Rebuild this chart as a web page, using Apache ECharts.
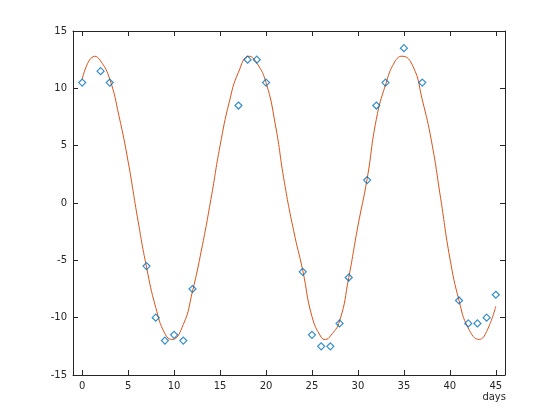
<!DOCTYPE html>
<html>
<head>
<meta charset="utf-8">
<script src="https://cdn.jsdelivr.net/npm/echarts@6/dist/echarts.min.js"></script>
<style>html,body{margin:0;padding:0;background:#fff}#c{width:560px;height:420px}</style>
</head>
<body>
<div id="c"></div>
<script>
// observed data points
var obsDays = [0,2,3,7,8,9,10,11,12,17,18,19,20,24,25,26,27,28,29,31,32,33,35,37,41,42,43,44,45];
var obsValues = [10.5,11.5,10.5,-5.5,-10,-12,-11.5,-12,-7.5,8.5,12.5,12.5,10.5,-6,-11.5,-12.5,-12.5,-10.5,-6.5,2,8.5,10.5,13.5,10.5,-8.5,-10.5,-10.5,-10,-8];
// fitted curve, values
var fitDays = [0,1.35,2,3,4,5,6,7,8,9,9.75,11,12,13,14,15,16,17,18.15,19,20,21,22,23,24,25,26,26.45,27,28,29,30,31,32,33,34,34.8,36,37,38,39,40,41,42,43.2,44,45];
var fitValues = [10.8,12.8,12.4,10.8,7.6,3.6,-1.2,-5.6,-9.1,-11.4,-11.9,-10.6,-7.7,-4.0,0.3,5.0,8.8,11.4,12.8,12.2,10.5,6.9,1.8,-2.4,-5.9,-9.9,-11.7,-11.9,-11.6,-10.3,-6.5,-2.0,2.1,7.3,10.3,12.3,12.8,11.9,9.0,5.4,0.4,-4.8,-8.5,-10.9,-11.9,-11.2,-9.0];
var xTicks = [0,5,10,15,20,25,30,35,40,45];
var xLabel = 'days';

var chart = echarts.init(document.getElementById('c'), null, {renderer:'canvas'});
var axisColor = '#262626';
var font = 'DejaVu Sans';
var fitData = fitDays.map(function(d,i){return [d, fitValues[i]];});
var obsData = obsDays.map(function(d,i){return [d, obsValues[i]];});
var axLine = {show:true, onZero:false, lineStyle:{color:axisColor, width:1}};
chart.setOption({
  animation:false,
  backgroundColor:'#fff',
  grid:{left:73, right:55, top:31, bottom:45, containLabel:false},
  xAxis:[{
    type:'value', min:-1, max:46, position:'bottom',
    axisLine:axLine,
    axisTick:{show:true, inside:true, length:5, lineStyle:{color:axisColor}, customValues:xTicks},
    axisLabel:{show:true, margin:6, color:axisColor, fontFamily:font, fontSize:10, customValues:xTicks},
    splitLine:{show:false}
  },{
    type:'value', min:-1, max:46, position:'top',
    axisLine:axLine,
    axisTick:{show:true, inside:true, length:5, lineStyle:{color:axisColor}, customValues:xTicks},
    axisLabel:{show:false},
    splitLine:{show:false}
  }],
  yAxis:[{
    type:'value', min:-15, max:15, interval:5, position:'left',
    axisLine:axLine,
    axisTick:{show:true, inside:true, length:5, lineStyle:{color:axisColor}},
    axisLabel:{show:true, margin:6, color:axisColor, fontFamily:font, fontSize:10},
    splitLine:{show:false}
  },{
    type:'value', min:-15, max:15, interval:5, position:'right',
    axisLine:axLine,
    axisTick:{show:true, inside:true, length:5, lineStyle:{color:axisColor}},
    axisLabel:{show:false},
    splitLine:{show:false}
  }],
  graphic:[{
    type:'text', right:54, top:392,
    style:{text:xLabel, fill:axisColor, font:'10px "DejaVu Sans"', textAlign:'right'}
  }],
  series:[{
    type:'scatter', data:obsData, xAxisIndex:0, yAxisIndex:0,
    symbol:'diamond', symbolSize:7,
    itemStyle:{color:'rgba(255,255,255,0)', borderColor:'#0072bd', borderWidth:1.2},
    z:3
  },{
    type:'line', data:fitData, xAxisIndex:0, yAxisIndex:0,
    smooth:true, showSymbol:false, symbol:'none',
    lineStyle:{color:'#d95319', width:1},
    z:2
  }]
});
</script>
</body>
</html>
